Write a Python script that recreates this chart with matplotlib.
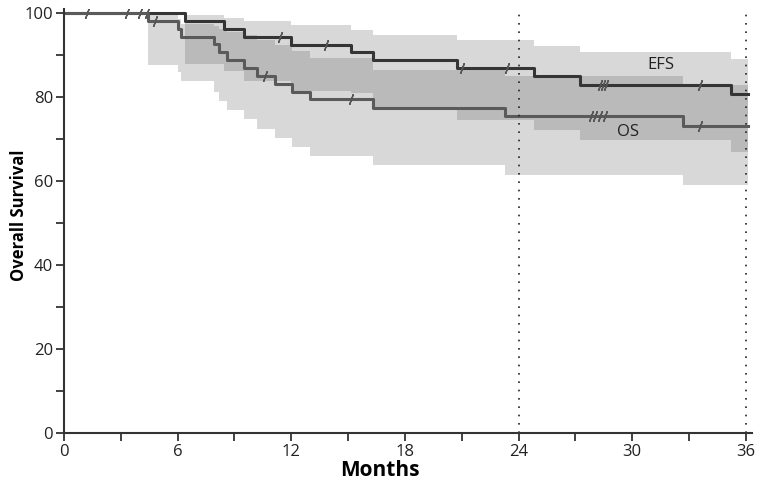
import numpy as np
import matplotlib
matplotlib.use("Agg")
import matplotlib.pyplot as plt
from matplotlib.ticker import MultipleLocator

plt.rcParams['font.family'] = ['Open Sans', 'DejaVu Sans']

# Kaplan-Meier steps (months, percent)
efs_t = [0, 6.39, 8.45, 9.5, 12.0, 15.15, 16.3, 20.75, 24.8, 27.25, 35.2]
efs_s = [100, 98.2, 96.3, 94.5, 92.6, 90.8, 88.9, 87.0, 85.0, 82.9, 80.7]
efs_hi = [100, 99.6, 99.0, 98.2, 97.3, 96.1, 94.9, 93.6, 92.2, 90.9, 89.2]
efs_lo = [100, 88.0, 86.3, 83.8, 81.6, 81.0, 77.3, 74.7, 72.2, 69.8, 67.1]
efs_cens = [1.2, 3.3, 4.0, 4.4, 11.4, 13.85, 21.0, 23.4, 28.3, 28.45, 28.6, 33.6]

os_t = [0, 4.45, 6.0, 6.2, 7.94, 8.18, 8.62, 9.5, 10.17, 11.16, 12.03, 13.0, 16.3, 23.3, 32.7]
os_s = [100, 98.2, 96.3, 94.5, 92.7, 90.8, 88.9, 87.0, 85.2, 83.3, 81.4, 79.5, 77.5, 75.5, 73.3]
os_hi = [100, 99.7, 98.8, 97.5, 97.0, 96.3, 95.5, 94.8, 93.6, 92.4, 91.0, 89.4, 86.6, 85.1, 83.0]
os_lo = [100, 87.8, 86.1, 83.8, 81.4, 79.1, 76.9, 74.8, 72.4, 70.3, 68.2, 66.0, 63.8, 61.5, 59.1]
os_cens = [4.8, 10.6, 15.15, 27.8, 28.05, 28.3, 28.55, 33.6]

t_end = 36.1
ref_lines = [24, 36]


def ext(t, v):
    return np.array(t + [t_end]), np.array(v + [v[-1]])


def at(t, v, x):
    idx = np.searchsorted(t, x, side='right') - 1
    return np.array(v)[idx]


fig = plt.figure(figsize=(7.68, 4.84), dpi=100)
ax = fig.add_axes([64 / 768, 51 / 484, 687.5 / 768, 423.7 / 484])

# confidence bands (overlap gets darker)
for t, lo, hi in [(efs_t, efs_lo, efs_hi), (os_t, os_lo, os_hi)]:
    tx, lox = ext(t, lo)
    _, hix = ext(t, hi)
    ax.fill_between(tx, lox, hix, step='post', color='#4b4b4b', alpha=0.21, lw=0)

for t, s, cens, col in [(efs_t, efs_s, efs_cens, '#353535'), (os_t, os_s, os_cens, '#5a5a5a')]:
    tx, sx = ext(t, s)
    ax.step(tx, sx, where='post', color=col, lw=2.2)
    ax.plot(cens, at(t, s, cens), ls='none', marker=(2, 2, -20), ms=8,
            mew=1, color='#555555')

ax.vlines(ref_lines, 0, 100.5, colors='#222222', linestyles=(0, (1, 4)), lw=1.2)

ax.text(31.5, 87.8, 'EFS', fontsize=12, ha='center', va='center', color='#222222')
ax.text(29.8, 71.8, 'OS', fontsize=12, ha='center', va='center', color='#222222')

ax.set_xlim(0, 36.3)
ax.set_ylim(0, 101)
ax.xaxis.set_major_locator(MultipleLocator(6))
ax.xaxis.set_minor_locator(MultipleLocator(3))
ax.yaxis.set_major_locator(MultipleLocator(20))
ax.yaxis.set_minor_locator(MultipleLocator(10))
ax.tick_params(which='both', length=6, width=1.3, color='#333333', labelsize=12,
               labelcolor='#222222', pad=2)

for side in ['top', 'right']:
    ax.spines[side].set_visible(False)
for side in ['left', 'bottom']:
    ax.spines[side].set_color('#333333')
    ax.spines[side].set_linewidth(1.5)

ax.set_xlabel('Months', fontsize=15, fontweight='bold')
ax.set_ylabel('Overall Survival', fontsize=12, fontweight='bold')
ax.xaxis.set_label_coords(0.46, -0.064)
ax.yaxis.set_label_coords(-0.052, 0.514)

fig.savefig('out.png', dpi=100)
